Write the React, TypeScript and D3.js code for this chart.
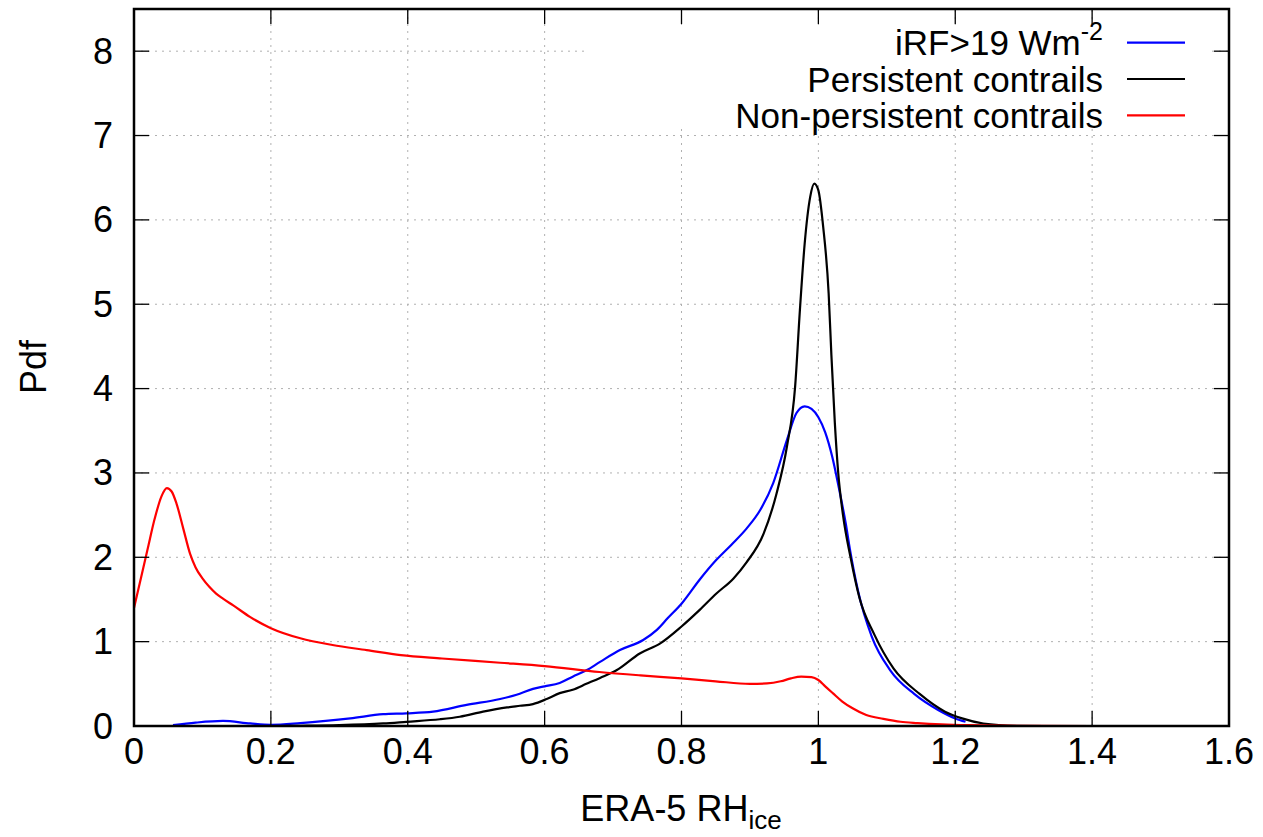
import React from "react";
import * as d3 from "d3";

const xTicks = [0, 0.2, 0.4, 0.6, 0.8, 1, 1.2, 1.4, 1.6];
const yTicks = [0, 1, 2, 3, 4, 5, 6, 7, 8];

// iRF > 19 Wm-2 (blue)
const blueX = [0.057, 0.09, 0.13, 0.17, 0.2, 0.243, 0.28, 0.316, 0.364, 0.398, 0.437, 0.486, 0.535, 0.559, 0.583, 0.6, 0.622, 0.641, 0.661, 0.681, 0.71, 0.744, 0.764, 0.78, 0.8, 0.827, 0.851, 0.873, 0.895, 0.915, 0.934, 0.954, 0.968, 0.98, 0.99, 1.0, 1.01, 1.02, 1.03, 1.04, 1.046, 1.058, 1.078, 1.105, 1.14, 1.175, 1.2, 1.215];
const blueY = [0.01, 0.04, 0.06, 0.03, 0.015, 0.035, 0.06, 0.09, 0.14, 0.15, 0.17, 0.25, 0.32, 0.37, 0.44, 0.47, 0.51, 0.585, 0.66, 0.76, 0.9, 1.02, 1.14, 1.28, 1.45, 1.74, 1.97, 2.15, 2.34, 2.56, 2.88, 3.39, 3.71, 3.79, 3.76, 3.66, 3.48, 3.2, 2.82, 2.4, 2.1, 1.6, 1.06, 0.66, 0.38, 0.19, 0.09, 0.05];

// Persistent contrails (black)
const blackX = [0.2, 0.243, 0.3, 0.364, 0.398, 0.447, 0.476, 0.51, 0.545, 0.564, 0.583, 0.603, 0.622, 0.641, 0.661, 0.681, 0.705, 0.739, 0.769, 0.8, 0.827, 0.851, 0.876, 0.895, 0.92, 0.939, 0.954, 0.966, 0.973, 0.98, 0.988, 0.994, 1.0, 1.007, 1.015, 1.019, 1.024, 1.029, 1.036, 1.047, 1.06, 1.082, 1.11, 1.148, 1.185, 1.21, 1.241, 1.29, 1.33];
const blackY = [0.0, 0.003, 0.01, 0.03, 0.05, 0.08, 0.11, 0.17, 0.22, 0.24, 0.26, 0.32, 0.39, 0.43, 0.5, 0.57, 0.66, 0.86, 0.98, 1.18, 1.38, 1.57, 1.75, 1.94, 2.28, 2.76, 3.31, 4.02, 4.93, 5.72, 6.27, 6.43, 6.35, 5.92, 5.13, 4.4, 3.6, 3.0, 2.5, 2.0, 1.52, 1.08, 0.68, 0.38, 0.17, 0.09, 0.03, 0.003, 0.0];

// Non-persistent contrails (red)
const redX = [0, 0.01, 0.02, 0.03, 0.04, 0.048, 0.055, 0.062, 0.072, 0.082, 0.09, 0.1, 0.11, 0.12, 0.13, 0.145, 0.17, 0.2, 0.243, 0.29, 0.34, 0.39, 0.45, 0.535, 0.6, 0.68, 0.74, 0.8, 0.85, 0.9, 0.925, 0.945, 0.96, 0.975, 0.99, 1.0, 1.01, 1.021, 1.035, 1.05, 1.07, 1.095, 1.12, 1.145, 1.18, 1.22, 1.27, 1.32, 1.4];
const redY = [1.4, 1.75, 2.1, 2.45, 2.72, 2.82, 2.78, 2.64, 2.34, 2.04, 1.88, 1.75, 1.65, 1.57, 1.51, 1.43, 1.29, 1.16, 1.04, 0.96, 0.9, 0.84, 0.8, 0.75, 0.71, 0.64, 0.6, 0.565, 0.53, 0.5, 0.505, 0.53, 0.565, 0.585, 0.58, 0.545, 0.47, 0.39, 0.29, 0.21, 0.13, 0.085, 0.05, 0.035, 0.02, 0.01, 0.004, 0.001, 0.0];

const FONT = "'Liberation Sans', Arial, Helvetica, sans-serif";

export default function App() {
  const W = 1263, H = 837;
  const x = d3.scaleLinear().domain([0, 1.6]).range([134, 1229]);
  const y = d3.scaleLinear().domain([0, 8.5]).range([726, 9]);
  const line = d3
    .line<[number, number]>()
    .x((d) => x(d[0]))
    .y((d) => y(d[1]))
    .curve(d3.curveMonotoneX);
  const zip = (a: number[], b: number[]) => a.map((v, i) => [v, b[i]] as [number, number]);

  const series = [
    { name: "blue", X: blueX, Y: blueY, color: "#0000ff" },
    { name: "black", X: blackX, Y: blackY, color: "#000000" },
    { name: "red", X: redX, Y: redY, color: "#ff0000" },
  ];

  const [x0, x1] = x.range();
  const [y0, y1] = y.range();
  const tickLen = 15;
  const fs = 36;
  const legFs = 35;

  return (
    <svg
      width={W}
      height={H}
      style={{ position: "absolute", left: 0, top: 0, background: "#fff", fontFamily: FONT }}
    >
      <rect x={0} y={0} width={W} height={H} fill="#fff" />
      {/* grid */}
      <g stroke="#b0b0b0" strokeWidth={1} strokeDasharray="2,5">
        {xTicks.slice(1, -1).map((t) => (
          <line key={"gx" + t} x1={x(t)} x2={x(t)} y1={y0} y2={y1} />
        ))}
        {yTicks.slice(1).map((t) => (
          <line key={"gy" + t} x1={x0} x2={x1} y1={y(t)} y2={y(t)} />
        ))}
      </g>
      {/* legend background */}
      <rect x={585} y={25} width={622} height={103} fill="#fff" />
      {/* curves */}
      {series.map((s) => (
        <path key={s.name} d={line(zip(s.X, s.Y)) || ""} fill="none" stroke={s.color} strokeWidth={2.2} />
      ))}
      {/* ticks */}
      <g stroke="#000" strokeWidth={1.3}>
        {xTicks.slice(1, -1).map((t) => (
          <g key={"tx" + t}>
            <line x1={x(t)} x2={x(t)} y1={y0} y2={y0 - tickLen} />
            <line x1={x(t)} x2={x(t)} y1={y1} y2={y1 + tickLen} />
          </g>
        ))}
        {yTicks.slice(1).map((t) => (
          <g key={"ty" + t}>
            <line x1={x0} x2={x0 + tickLen} y1={y(t)} y2={y(t)} />
            <line x1={x1} x2={x1 - tickLen} y1={y(t)} y2={y(t)} />
          </g>
        ))}
      </g>
      {/* border */}
      <rect x={x0} y={y1} width={x1 - x0} height={y0 - y1} fill="none" stroke="#000" strokeWidth={2.5} />
      {/* tick labels */}
      <g fontSize={fs} fill="#000">
        {xTicks.map((t) => (
          <text key={"lx" + t} x={x(t)} y={764} textAnchor="middle">
            {String(t)}
          </text>
        ))}
        {yTicks.map((t) => (
          <text key={"ly" + t} x={113} y={y(t)} textAnchor="end" dominantBaseline="central">
            {String(t)}
          </text>
        ))}
      </g>
      {/* axis titles */}
      <text x={681} y={821} textAnchor="middle" fontSize={fs}>
        ERA-5 RH
        <tspan fontSize={26} dy={8}>ice</tspan>
      </text>
      <text transform="translate(46,367) rotate(-90)" textAnchor="middle" fontSize={fs}>
        Pdf
      </text>
      {/* legend */}
      <g fontSize={legFs}>
        <text x={1103} y={42.7} textAnchor="end" dominantBaseline="central">
          iRF&gt;19 Wm<tspan fontSize={25} dy={-12}>-2</tspan>
        </text>
        <text x={1103} y={79} textAnchor="end" dominantBaseline="central">
          Persistent contrails
        </text>
        <text x={1103} y={115.3} textAnchor="end" dominantBaseline="central">
          Non-persistent contrails
        </text>
        <line x1={1127} x2={1185} y1={42.7} y2={42.7} stroke="#0000ff" strokeWidth={2.2} />
        <line x1={1127} x2={1185} y1={79} y2={79} stroke="#000" strokeWidth={2.2} />
        <line x1={1127} x2={1185} y1={115.3} y2={115.3} stroke="#ff0000" strokeWidth={2.2} />
      </g>
    </svg>
  );
}
